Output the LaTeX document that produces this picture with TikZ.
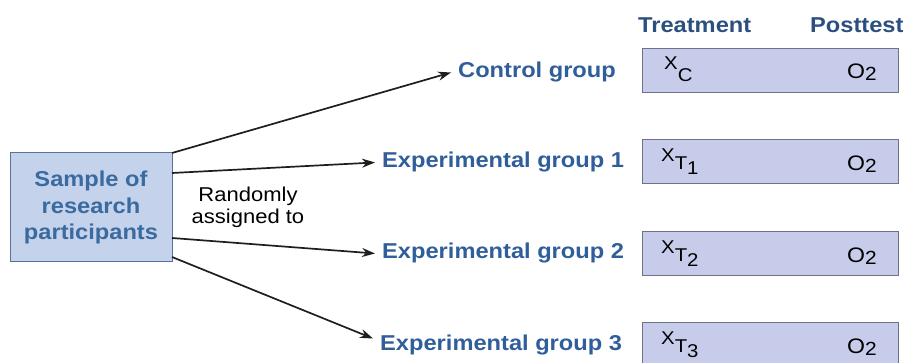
\documentclass[tikz,border=0pt]{standalone}
\usepackage{fontspec}
\setmainfont[FakeStretch=1.1]{Liberation Sans}
\usetikzlibrary{arrows.meta}
\definecolor{lblue}{HTML}{2F5E9A}
\definecolor{hblue}{HTML}{2B4F7E}
\definecolor{sblue}{HTML}{3A6A9E}
\definecolor{sfill}{HTML}{C4D2EC}
\definecolor{sdraw}{HTML}{56739B}
\definecolor{bfill}{HTML}{C8CCEB}
\definecolor{bdraw}{HTML}{6D7385}
\definecolor{arrowc}{HTML}{1E1E1E}
\newcommand{\xsubT}[1]{X\raisebox{-8pt}{T\raisebox{-5pt}{#1}}}
\newcommand{\otwo}{O\raisebox{-2pt}{\fontsize{19pt}{19pt}\selectfont 2}}
\begin{document}
\begin{tikzpicture}[x=1pt,y=-1pt,
  samplebox/.style={draw=sdraw, fill=sfill, line width=1pt, minimum width=162pt, minimum height=109pt, inner sep=0pt, outer sep=0pt, align=center, text=sblue, font=\fontsize{21.5pt}{26.5pt}\selectfont\bfseries},
  grpbox/.style={draw=bdraw, fill=bfill, line width=1pt, minimum width=256pt, minimum height=44pt, inner sep=0pt, outer sep=0pt},
  grplabel/.style={anchor=base west, inner xsep=7pt, inner ysep=0pt, text=lblue, font=\fontsize{21.5pt}{26.5pt}\selectfont\bfseries},
  header/.style={anchor=base west, inner sep=0pt, text=hblue, font=\fontsize{21.5pt}{26.5pt}\selectfont\bfseries},
  cellx/.style={anchor=base west, inner sep=0pt, text=black, font=\fontsize{18.5pt}{18.5pt}\selectfont},
  cello/.style={anchor=base west, inner sep=0pt, text=black, font=\fontsize{21pt}{21pt}\selectfont},
  note/.style={align=center, inner sep=0pt, text=black, font=\fontsize{20pt}{22pt}\selectfont},
  conn/.style={draw=arrowc, line width=1.7pt, -{Stealth[length=13pt,width=9pt]}}
]
\useasboundingbox (0,0) rectangle (906,363);

% sample box
\node[samplebox] (s) at (91,207.5) {Sample of\\research\\participants};
\node[note] (r) at (248,207) {Randomly\\assigned to};

% group labels
\node[grplabel] (cg) at (451,78) {Control group};
\node[grplabel] (e1) at (375,168) {Experimental group 1};
\node[grplabel] (e2) at (375,259) {Experimental group 2};
\node[grplabel] (e3) at (373,351) {Experimental group 3};

% headers
\node[header] (ht) at (638,33) {Treatment};
\node[header] (hp) at (810,33) {Posttest};

% right boxes
\node[grpbox] (b0) at (770,71) {};
\node[grpbox] (b1) at (770,162) {};
\node[grpbox] (b2) at (770,254) {};
\node[grpbox] (b3) at (770,345) {};

\node[cellx] (x0) at (664,70) {X\raisebox{-12pt}{C}};
\node[cellx] (x1) at (661,162) {\xsubT{1}};
\node[cellx] (x2) at (661,254) {\xsubT{2}};
\node[cellx] (x3) at (661,345) {\xsubT{3}};

\node[cello] (o0) at (847,79) {\otwo};
\node[cello] (o1) at (847,171) {\otwo};
\node[cello] (o2) at (847,263) {\otwo};
\node[cello] (o3) at (847,354) {\otwo};

% connectors
\draw[conn] (s.north east) -- (cg.west);
\draw[conn] ([yshift=-20pt]s.north east) -- (e1.west);
\draw[conn] ([yshift=24pt]s.south east) -- (e2.west);
\draw[conn] ([yshift=5pt]s.south east) -- ([yshift=7pt]e3.west);
\end{tikzpicture}
\end{document}
